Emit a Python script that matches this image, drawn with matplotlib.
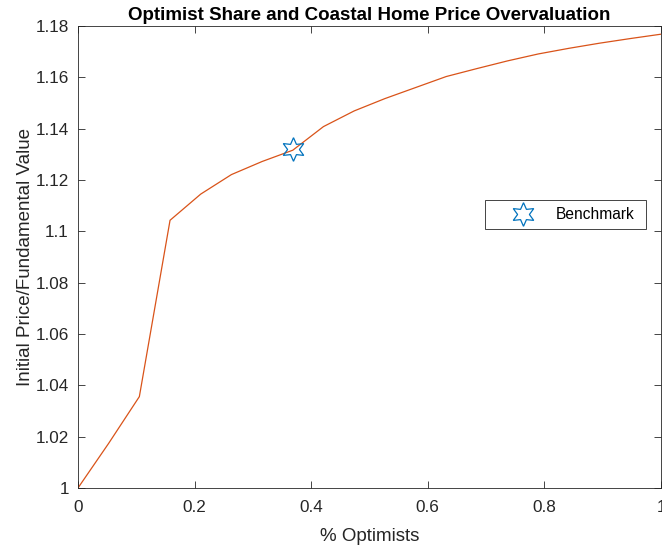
import matplotlib.pyplot as plt
from matplotlib.ticker import FuncFormatter

# share of optimists (20 grid points) and price / fundamental value
share = [i / 19 for i in range(20)]
price_ratio = [1.0, 1.0174, 1.0356, 1.1043, 1.1145, 1.1221, 1.1272, 1.1316,
               1.1408, 1.1469, 1.1517, 1.1560, 1.1603, 1.1634, 1.1664,
               1.1691, 1.1713, 1.1733, 1.1751, 1.1768]
bench_x = [7 / 19]
bench_y = [1.1322]

plt.rcParams['font.family'] = ['Liberation Sans', 'DejaVu Sans']
dark = '#262626'

fig = plt.figure(figsize=(6.62, 5.48), dpi=100)
ax = fig.add_axes([0.1178, 0.1095, 0.8807, 0.8431])

ax.plot(share, price_ratio, color='#D95319', lw=0.9)
ax.plot(bench_x, bench_y, linestyle='none', marker=(6, 1, 0), markersize=17,
        markerfacecolor='none', markeredgecolor='#0072BD', markeredgewidth=0.9,
        label='Benchmark')

ax.set_xlim(0, 1)
ax.set_ylim(1, 1.18)
ax.set_xticks([0, 0.2, 0.4, 0.6, 0.8, 1])
ax.set_yticks([1 + 0.02 * i for i in range(10)])
fmt = FuncFormatter(lambda v, p: '%g' % round(v, 4))
ax.xaxis.set_major_formatter(fmt)
ax.yaxis.set_major_formatter(fmt)
ax.tick_params(direction='in', top=True, right=True, length=5, width=0.6,
               colors=dark, labelsize=12.3, labelcolor=dark)
ax.tick_params(axis='x', pad=9)
ax.tick_params(axis='y', pad=6.5)
for s in ax.spines.values():
    s.set_color(dark)
    s.set_linewidth(0.6)

ax.set_xlabel('% Optimists', fontsize=13.5, color=dark, labelpad=9)
ax.set_ylabel('Initial Price/Fundamental Value', fontsize=13.5, color=dark, labelpad=1)
ax.set_title('Optimist Share and Coastal Home Price Overvaluation',
             fontsize=13.5, fontweight='bold', pad=4)

leg = ax.legend(loc='upper left', bbox_to_anchor=(0.698, 0.6234, 0.276, 0.0),
                mode='expand', borderaxespad=0, fancybox=False,
                edgecolor=dark, framealpha=1, fontsize=11.2, handlelength=4.0,
                borderpad=0.45, handletextpad=0.1)
leg.get_frame().set_linewidth(0.6)

fig.savefig('out.png', dpi=100)
